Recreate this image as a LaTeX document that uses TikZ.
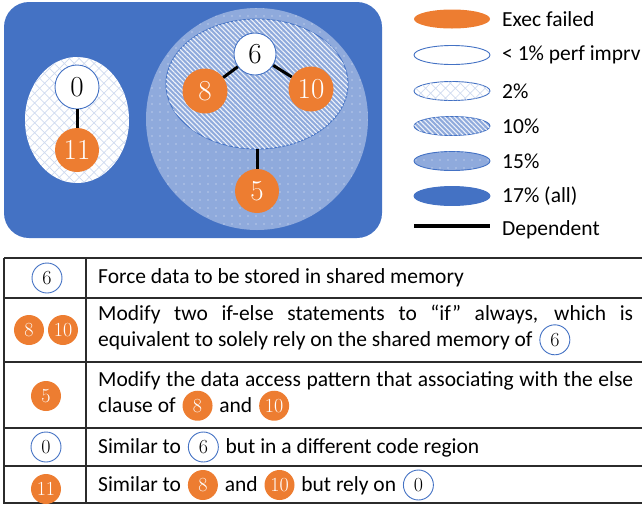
\documentclass[tikz,border=0pt]{standalone}
\usepackage{fontspec}
\usetikzlibrary{shapes.geometric,patterns.meta}
\newfontfamily\calib{Carlito}
\definecolor{cblue}{HTML}{4472C4}
\definecolor{corange}{HTML}{ED7D31}
\definecolor{clight}{HTML}{8FAADC}
\definecolor{chatch}{HTML}{D0DBF0}
\definecolor{cgrid}{HTML}{2B2B2B}
\tikzset{
  failed/.style={circle, fill=corange, text=white, inner sep=0pt},
  noimp/.style={circle, draw=cblue, line width=0.9pt, fill=white, inner sep=0pt},
  pcross/.style={fill=white, postaction={pattern={Hatch[angle=45,distance=7pt,line width=0.7pt]}, pattern color=chatch}},
  pstripe/.style={fill=clight, postaction={pattern={Lines[angle=-45,distance=3.4pt,line width=1.1pt]}, pattern color=white!85!clight}},
  pdots/.style={fill=clight, postaction={pattern={Dots[radius=0.7pt,distance=8pt]}, pattern color=white!80!clight}},
  keyshape/.style={ellipse, minimum width=76pt, minimum height=19pt, inner sep=0pt, draw=cblue, line width=0.9pt},
  keytext/.style={anchor=west, inner sep=0pt, font=\calib\fontsize{21.5}{24}\selectfont},
  rowtext/.style={anchor=west, inner sep=0pt, text width=535pt, align=justify, font=\calib\fontsize{21.5}{26}\selectfont},
  bignum/.style={font=\fontsize{29}{29}\selectfont},
  dep/.style={line width=3pt}
}
\newcommand{\fbadge}[1]{\hspace{2pt}\tikz[baseline=(b.base)]\node[failed, minimum size=30pt, font=\rmfamily\fontsize{20}{20}\selectfont] (b) {#1};\hspace{2pt}}
\newcommand{\wbadge}[1]{\hspace{2pt}\tikz[baseline=(b.base)]\node[noimp, minimum size=30pt, font=\rmfamily\fontsize{20}{20}\selectfont] (b) {#1};\hspace{2pt}}

\begin{document}
\begin{tikzpicture}[x=1pt, y=-1pt]
\useasboundingbox (0,0) rectangle (642,504);

\fill [cblue, rounded corners=25pt] (4,2) rectangle (382,238);
\node [ellipse, minimum width=104pt, minimum height=126pt, inner sep=0pt, pcross] (e2) at (77,120) {};
\node [circle, minimum size=222pt, inner sep=0pt, pdots] (c15) at (257,119) {};
\node [ellipse, minimum width=182pt, minimum height=130pt, inner sep=0pt, draw=cblue, line width=0.9pt, pstripe] (e10) at (257,84) {};

\node [noimp, minimum size=44pt, bignum] (n0) at (77,87) {0};
\node [failed, minimum size=44pt, bignum] (n11) at (77,150) {11};
\node [noimp, minimum size=42pt, bignum] (n6) at (255,54) {6};
\node [failed, minimum size=45pt, bignum] (n8) at (205,91) {8};
\node [failed, minimum size=45pt, bignum] (n10) at (311,89) {10};
\node [failed, minimum size=44pt, bignum] (n5) at (257,191) {5};

\draw [dep] (n0)--(n11);
\draw [dep] (n6)--(n8);
\draw [dep] (n6)--(n10);
\draw [dep] (e10.south)--(n5);

\node [keyshape, draw=none, fill=corange] (k1) at (452,19) {};
\node [keyshape, fill=white] (k2) at (452,55) {};
\node [keyshape, pcross] (k3) at (452,91) {};
\node [keyshape, pstripe] (k4) at (452,126) {};
\node [keyshape, pdots] (k5) at (452,161) {};
\node [keyshape, fill=cblue] (k6) at (452,196) {};
\coordinate (k7a) at (414,226);
\coordinate (k7b) at (490,226);
\draw [line width=3.5pt] (k7a)--(k7b);

\node [keytext] (t1) at (502,19) {Exec failed};
\node [keytext] (t2) at (502,55) {< 1\% perf imprv};
\node [keytext] (t3) at (502,91) {2\%};
\node [keytext] (t4) at (502,126) {10\%};
\node [keytext] (t5) at (502,161) {15\%};
\node [keytext] (t6) at (502,196) {17\% (all)};
\node [keytext] (t7) at (502,230) {Dependent};

\draw [cgrid, line width=1.2pt] (4,258)--(642,258) (4,298)--(642,298) (4,362)--(642,362) (4,428)--(642,428) (4,466)--(642,466) (4,503)--(642,503);
\draw [cgrid, line width=1.2pt] (4,258)--(4,504) (86,258)--(86,504);

\node (b1) at (46,278) {\wbadge{6}};
\node (b2) at (28,330) {\fbadge{8}};
\node (b3) at (62,330) {\fbadge{10}};
\node (b4) at (45,396) {\fbadge{5}};
\node (b5) at (45,447) {\wbadge{0}};
\node (b6) at (45,489) {\fbadge{11}};

\node [rowtext] (r1) at (98,278) {Force data to be stored in shared memory};
\node [rowtext] (r2) at (98,330) {Modify two if-else statements to “if” always, which is\linebreak equivalent to solely rely on the shared memory of \wbadge{6}};
\node [rowtext] (r3) at (98,396) {Modify the data access pattern that associating with the else\linebreak clause of \fbadge{8} and \fbadge{10}};
\node [rowtext] (r4) at (98,447) {Similar to \wbadge{6} but in a different code region};
\node [rowtext] (r5) at (98,485) {Similar to \fbadge{8} and \fbadge{10} but rely on \wbadge{0}};
\end{tikzpicture}
\end{document}
